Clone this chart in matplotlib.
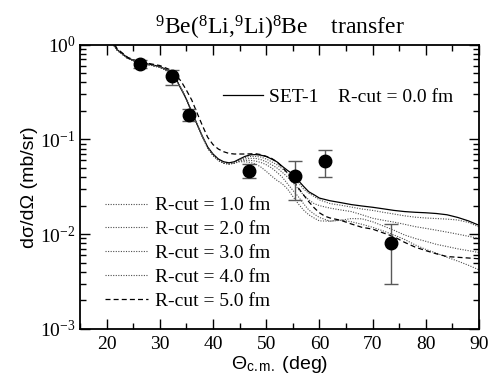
import numpy as np
import matplotlib
matplotlib.use('Agg')
import matplotlib.pyplot as plt
from matplotlib.lines import Line2D
from matplotlib.ticker import LogLocator, MultipleLocator, NullFormatter

plt.rcParams['font.family'] = ['Liberation Serif', 'DejaVu Serif']
plt.rcParams['mathtext.fontset'] = 'custom'
plt.rcParams['mathtext.rm'] = 'Liberation Serif'
plt.rcParams['mathtext.it'] = 'Liberation Serif:italic'
plt.rcParams['mathtext.sf'] = 'Liberation Sans'

# experimental points
theta_exp = [26.3, 32.2, 35.5, 46.7, 55.5, 61.1, 73.5]
xs_exp = [0.626, 0.46, 0.179, 0.0466, 0.0413, 0.0594, 0.0080]
xs_lo = [0.57, 0.37, 0.156, 0.0394, 0.0231, 0.0405, 0.0030]
xs_hi = [0.69, 0.535, 0.21, 0.0553, 0.0584, 0.0774, 0.0129]

# SET-1, R-cut = 0.0 fm
th0 = [20, 21, 22, 24, 26, 28, 30, 32, 33, 34, 35, 36, 37, 38, 39, 40, 41, 42, 43, 44,
       45, 46, 47, 48, 49, 50, 51, 52, 53, 54, 55, 56, 57, 58, 59, 60, 62, 64, 66, 68,
       70, 72, 74, 76, 78, 80, 82, 84, 86, 88, 90]
xs0 = [1.35, 1.05, 0.88, 0.72, 0.65, 0.62, 0.585, 0.52, 0.44, 0.34, 0.265, 0.195, 0.145,
       0.108, 0.083, 0.070, 0.062, 0.058, 0.0565, 0.058,
       0.062, 0.066, 0.0686, 0.069, 0.068, 0.066, 0.062, 0.058, 0.052, 0.047, 0.043,
       0.037, 0.032, 0.028, 0.026, 0.024, 0.0225, 0.0215, 0.0205, 0.0198,
       0.0192, 0.0185, 0.0178, 0.0173, 0.017, 0.0168, 0.0165, 0.016, 0.015, 0.0138, 0.0124]

# dotted curves, R-cut = 1..4 fm (common forward part + own tail)
th_fwd = [20, 21, 22, 24, 26, 28, 30, 32, 33, 34, 35, 36, 37, 38, 39, 40, 41, 42, 43, 44]
xs_fwd = [1.35, 1.05, 0.87, 0.71, 0.64, 0.61, 0.575, 0.51, 0.44, 0.345, 0.265, 0.195,
          0.145, 0.107, 0.081, 0.068, 0.060, 0.056, 0.055, 0.056]
th_tail = [45, 46, 47, 48, 49, 50, 51, 52, 53, 54, 55, 56, 57, 58, 59, 60, 62, 64, 66,
           68, 70, 72, 74, 76, 78, 80, 82, 84, 86, 88, 90]
xs1 = [0.061, 0.064, 0.066, 0.066, 0.065, 0.062, 0.058, 0.054, 0.049, 0.044, 0.040,
       0.035, 0.030, 0.027, 0.025, 0.023, 0.021, 0.0202, 0.0193, 0.0184, 0.0178, 0.017,
       0.0163, 0.0156, 0.0151, 0.0148, 0.0146, 0.0144, 0.0141, 0.0133, 0.0119]
xs2 = [0.060, 0.062, 0.063, 0.063, 0.061, 0.058, 0.054, 0.050, 0.045, 0.040, 0.035,
       0.030, 0.026, 0.023, 0.021, 0.020, 0.0188, 0.018, 0.0173, 0.016, 0.0147, 0.014,
       0.0134, 0.0127, 0.012, 0.0115, 0.011, 0.0105, 0.01, 0.0095, 0.009]
xs3 = [0.059, 0.060, 0.060, 0.059, 0.057, 0.054, 0.050, 0.045, 0.040, 0.034, 0.029,
       0.025, 0.021, 0.018, 0.0163, 0.015, 0.0137, 0.014, 0.0146, 0.0145, 0.0135, 0.0122,
       0.011, 0.0098, 0.009, 0.0084, 0.0078, 0.0074, 0.007, 0.0067, 0.0064]
xs4 = [0.058, 0.058, 0.057, 0.055, 0.051, 0.046, 0.041, 0.037, 0.034, 0.030, 0.025,
       0.021, 0.018, 0.016, 0.0148, 0.0138, 0.0137, 0.0141, 0.0135, 0.0127, 0.0118,
       0.0108, 0.0098, 0.0088, 0.0077, 0.0069, 0.0063, 0.0057, 0.0052, 0.0047, 0.0042]

# dashed, R-cut = 5.0 fm
th5 = [20, 22, 24, 26, 28, 30, 32, 33, 34, 35, 36, 37, 38, 39, 40, 41, 42, 43, 44, 46,
       48, 49, 50, 51, 52, 53, 54, 55, 56, 57, 58, 59, 60, 61, 62, 64, 66, 68, 70, 72,
       74, 76, 78, 80, 82, 84, 86, 88, 90]
xs5 = [1.4, 0.9, 0.73, 0.66, 0.63, 0.6, 0.54, 0.48, 0.41, 0.33, 0.26, 0.19, 0.14, 0.105,
       0.088, 0.079, 0.074, 0.071, 0.070, 0.070, 0.0705, 0.069, 0.066, 0.063, 0.058,
       0.051, 0.044, 0.037, 0.031, 0.026, 0.022, 0.019, 0.0168, 0.0155, 0.0148, 0.014,
       0.0128, 0.0118, 0.0113, 0.0103, 0.0094, 0.0082, 0.0073, 0.0067, 0.0062, 0.0058,
       0.0057, 0.0056, 0.0055]

rcut_labels = ['R-cut = 1.0 fm', 'R-cut = 2.0 fm', 'R-cut = 3.0 fm',
               'R-cut = 4.0 fm', 'R-cut = 5.0 fm']

fig = plt.figure(figsize=(5.0, 3.87), dpi=100)
ax = fig.add_axes([0.16, 0.15, 0.798, 0.735])

ax.plot(th0, xs0, color='black', lw=0.9)
dot_style = dict(color='0.3', lw=0.8, linestyle=(0, (1, 1.3)))
for tail in (xs1, xs2, xs3, xs4):
    ax.plot(th_fwd + th_tail, xs_fwd + tail, **dot_style)
ax.plot(th5, xs5, color='black', lw=0.9, linestyle=(0, (4, 2.5)))

exp = np.array(xs_exp)
yerr = [exp - np.array(xs_lo), np.array(xs_hi) - exp]
ax.errorbar(theta_exp, xs_exp, yerr=yerr, fmt='o', color='black', ms=9,
            ecolor='0.35', elinewidth=1.0, capsize=5, capthick=1.0, zorder=5)

ax.set_yscale('log')
ax.set_xlim(15, 90)
ax.set_ylim(1e-3, 1)
ax.xaxis.set_major_locator(MultipleLocator(10))
ax.xaxis.set_minor_locator(MultipleLocator(5))
ax.yaxis.set_major_locator(LogLocator(base=10, numticks=10))
ax.yaxis.set_minor_locator(LogLocator(base=10, subs=np.arange(2, 10), numticks=10))
ax.yaxis.set_minor_formatter(NullFormatter())
ax.tick_params(which='both', direction='in', top=True, right=True, labelsize=14)
ax.tick_params(which='major', length=7, width=1.0)
ax.tick_params(which='minor', length=4, width=1.0)
ax.tick_params(axis='x', pad=5)
ax.tick_params(axis='y', pad=3)
for s in ax.spines.values():
    s.set_linewidth(1.3)

ax.set_xlabel(r'Θ$_{\mathsf{c.m.}}$ (deg)', family='Liberation Sans', fontsize=14,
              labelpad=1)
ax.set_ylabel('dσ/dΩ (mb/sr)', family='Liberation Sans', fontsize=14)
ax.yaxis.set_label_coords(-0.105, 0.5)
ax.set_title(r'$^{9}$Be($^{8}$Li,$^{9}$Li)$^{8}$Be    transfer', fontsize=17, pad=7)

h0 = [Line2D([], [], color='black', lw=0.9)]
leg1 = ax.legend(h0, ['SET-1    R-cut = 0.0 fm'], loc='center left',
                 bbox_to_anchor=(0.34, 0.815), frameon=False, fontsize=14,
                 handlelength=2.05, handletextpad=0.3, borderaxespad=0)
ax.add_artist(leg1)

handles = [Line2D([], [], **dot_style) for _ in range(4)]
handles.append(Line2D([], [], color='black', lw=0.9, linestyle=(0, (4, 2.5))))
ax.legend(handles, rcut_labels, loc='lower left', bbox_to_anchor=(0.043, 0.04),
          frameon=False, fontsize=14, handlelength=2.2, handletextpad=0.35,
          labelspacing=0.32, borderaxespad=0)

fig.savefig('out.png', dpi=100)
